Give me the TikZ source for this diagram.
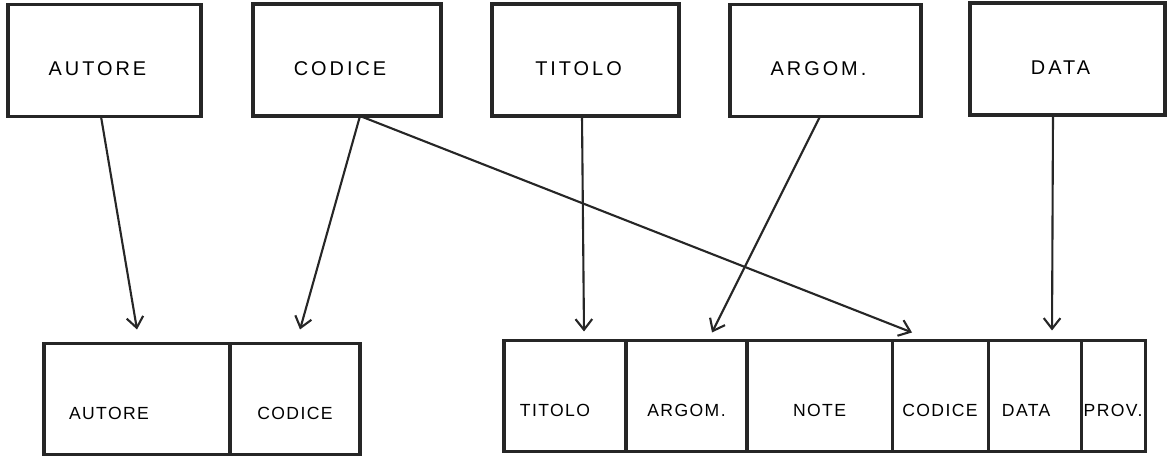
\documentclass[tikz,border=0pt]{standalone}
\usepackage{fontspec}
\setmainfont{Liberation Sans}
\newfontfamily\handbig[LetterSpace=15]{Liberation Sans}
\newfontfamily\handsmall[LetterSpace=8]{Liberation Sans}
\usetikzlibrary{arrows.meta,positioning,calc}
\tikzset{outer sep=0pt}

\begin{document}
\begin{tikzpicture}[
            x=0.03cm, y=-0.03cm,
            every node/.style={draw=black!85, line width=2.6pt, inner sep=0pt},
            field/.style={minimum width=#1, minimum height=3.36cm,
                text height=0.93cm, text depth=0pt,
                execute at end node={\hspace*{0.42cm}},
                font=\handbig\fontsize{17}{20}\selectfont},
            cell/.style={minimum width=#1, minimum height=3.33cm,
                text height=1.2cm, text depth=0pt,
                font=\handsmall\fontsize{15}{18}\selectfont},
            link/.style={draw=black!85, line width=1.8pt,
                -{Straight Barb[length=3.2mm,width=5mm,line width=1.8pt]}}
            ]
            \useasboundingbox (0,0) rectangle (1171,459);
            % campi sorgente
            \node[field=5.79cm] (autore) at (104.5,60.5) {AUTORE};
            \node[field=5.64cm] (codice) at (347,60) {CODICE};
            \node[field=5.61cm] (titolo) at (585.5,60) {TITOLO};
            \node[field=5.73cm] (argom) at (825.5,60.5) {ARGOM.};
            \node[field=5.85cm] (data) at (1067.5,59) {DATA};
            % archivio autori
            \node[cell=5.58cm] (lautore) at (137,399) {AUTORE\hspace*{1.68cm}};
            \node[cell=3.9cm, right=0pt of lautore] (lcodice) {CODICE};
            % archivio titoli
            \node[cell=3.66cm] (rtitolo) at (565,396) {TITOLO\hspace*{0.6cm}};
            \node[cell=3.63cm, right=0pt of rtitolo] (rargom) {ARGOM.};
            \node[cell=4.35cm, right=0pt of rargom] (rnote) {NOTE};
            \node[cell=2.88cm, right=0pt of rnote] (rcodice) {CODICE};
            \node[cell=2.79cm, right=0pt of rcodice] (rdata) {DATA\hspace*{0.5cm}};
            \node[cell=1.92cm, right=0pt of rdata] (rprov) {PROV.};
            % collegamenti
            \draw[link] ($(autore.south)+(-3.5,0)$) -- ($(lautore.north)+(0,-14)$);
            \draw[link] ($(codice.south)+(13,0)$) -- ($(lcodice.north)+(5,-14)$);
            \draw[link] ($(codice.south)+(13,0)$) -- ($(rcodice.north)+(-28,-8)$);
            \draw[link] ($(titolo.south)+(-3.5,0)$) -- ($(rtitolo.north)+(19,-9)$);
            \draw[link] ($(argom.south)+(-5.5,0)$) -- ($(rargom.north)+(25.5,-8)$);
            \draw[link] ($(data.south)+(-14.5,0)$) -- ($(rdata.north)+(17.5,-10)$);
\end{tikzpicture}
\end{document}
